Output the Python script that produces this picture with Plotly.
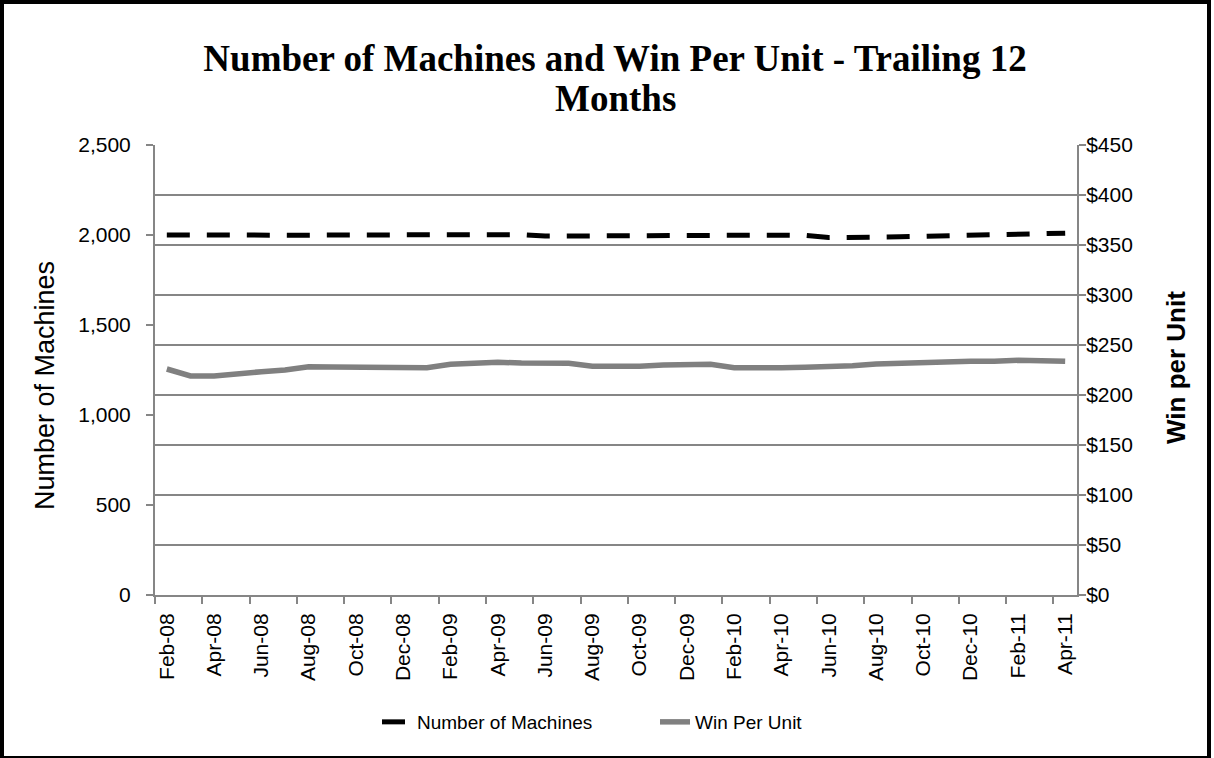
import plotly.graph_objects as go

months = ["Feb-08","Mar-08","Apr-08","May-08","Jun-08","Jul-08","Aug-08","Sep-08","Oct-08","Nov-08","Dec-08","Jan-09",
          "Feb-09","Mar-09","Apr-09","May-09","Jun-09","Jul-09","Aug-09","Sep-09","Oct-09","Nov-09","Dec-09","Jan-10",
          "Feb-10","Mar-10","Apr-10","May-10","Jun-10","Jul-10","Aug-10","Sep-10","Oct-10","Nov-10","Dec-10","Jan-11",
          "Feb-11","Mar-11","Apr-11"]

machines = [2000, 1999, 1998, 1998, 1999, 1999, 1999, 2000, 2000, 2000, 2001, 2001, 2001, 2003, 2003, 2002, 1994, 1995, 1995, 1998,
            2000, 2000, 2000, 2000, 2000, 1999, 1999, 1998, 1986, 1985, 1988, 1990, 1993, 1997, 2000, 2003, 2006, 2008, 2010]

win_per_unit = [226, 219, 219, 221.7, 223.3, 225, 228.3, 228, 228, 227.3, 226.7, 227.3, 230.7, 231.7, 232.7, 232, 231.7, 231.7,
                228.7, 228.3, 228.7, 230, 230, 230.7, 227.3, 226.7, 227.3, 227.7, 228.3, 229.3, 231, 232, 233, 233.3, 233.7,
                233.7, 234.7, 234.3, 233.7]

W, H = 1214, 758
L, R, T, B = 155, 1077, 145, 595   # plot area in page pixels

idx = list(range(len(months)))
tickvals = idx[::2]
ticktext = months[::2]

SANS = "Liberation Sans, Arial, sans-serif"
SERIF = "Liberation Serif, Times New Roman, serif"
GRID = "#868686"

fig = go.Figure()
fig.add_trace(go.Scatter(x=idx, y=machines, name="Number of Machines", mode="lines",
                         line=dict(color="black", width=5, dash="23px,17px")))
fig.add_trace(go.Scatter(x=idx, y=win_per_unit, name="Win Per Unit", mode="lines", yaxis="y2",
                         line=dict(color="#808080", width=5.5)))

def px2x(p):
    return (p - L) / (R - L)

def px2y(p):
    return (B - p) / (B - T)

fig.update_layout(
    width=W, height=H,
    margin=dict(l=L, r=W - R, t=T, b=H - B, pad=0),
    paper_bgcolor="white", plot_bgcolor="white",
    title=dict(text="<b>Number of Machines and Win Per Unit - Trailing 12</b>",
               font=dict(family=SERIF, size=37, color="black"),
               x=615 / W, xref="container", xanchor="center",
               y=1 - 58 / H, yref="container", yanchor="middle"),
    font=dict(family=SANS, color="black", size=21),
    xaxis=dict(range=[-0.5, len(months) - 0.5], tickmode="array", tickvals=tickvals, ticktext=ticktext,
               tickangle=-90, ticks="", showgrid=False, zeroline=False,
               showline=True, linecolor=GRID, linewidth=2, ticklabelstandoff=8,
               tickfont=dict(family=SANS, size=21, color="black"),
               minor=dict(tickmode="array", tickvals=[i - 0.5 for i in idx[::2]], ticks="outside",
                          ticklen=7, tickwidth=2, tickcolor=GRID, showgrid=False)),
    yaxis=dict(range=[0, 2500], dtick=500, tickformat=",", showgrid=False, zeroline=False,
               showline=True, linecolor=GRID, linewidth=2, ticks="outside", ticklen=7, tickwidth=2,
               tickcolor=GRID, ticklabelstandoff=11,
               tickfont=dict(family=SANS, size=21, color="black")),
    yaxis2=dict(range=[0, 450], dtick=50, tickprefix="$", overlaying="y", side="right",
                showgrid=True, gridcolor=GRID, gridwidth=2, zeroline=False,
                showline=True, linecolor=GRID, linewidth=2, ticks="outside", ticklen=7, tickwidth=2,
                tickcolor=GRID, ticklabelstandoff=-4,
                tickfont=dict(family=SANS, size=21, color="black")),
    legend=dict(orientation="h", x=px2x(377), xanchor="left", y=px2y(722), yanchor="middle",
                font=dict(family=SANS, size=19, color="black"), entrywidth=233, entrywidthmode="pixels",
                tracegroupgap=0, bgcolor="rgba(0,0,0,0)"),
    showlegend=True,
    annotations=[
        dict(text="<b>Months</b>", x=px2x(615), y=px2y(98), xref="paper", yref="paper",
             xanchor="center", yanchor="middle", showarrow=False,
             font=dict(family=SERIF, size=37, color="black")),
        dict(text="Number of Machines", x=px2x(45), y=px2y(386), xref="paper", yref="paper",
             xanchor="center", yanchor="middle", showarrow=False, textangle=-90,
             font=dict(family=SANS, size=27, color="black")),
        dict(text="<b>Win per Unit</b>", x=px2x(1176), y=px2y(368), xref="paper", yref="paper",
             xanchor="center", yanchor="middle", showarrow=False, textangle=-90,
             font=dict(family=SANS, size=26, color="black")),
    ],
)

fig.add_shape(type="rect", xref="paper", yref="paper",
              x0=px2x(2), x1=px2x(1209), y0=px2y(758), y1=px2y(2),
              line=dict(color="black", width=4), fillcolor="rgba(0,0,0,0)", layer="above")

fig.write_html("out.html", config={"displayModeBar": False},
               post_script="document.body.style.margin='0px';")
